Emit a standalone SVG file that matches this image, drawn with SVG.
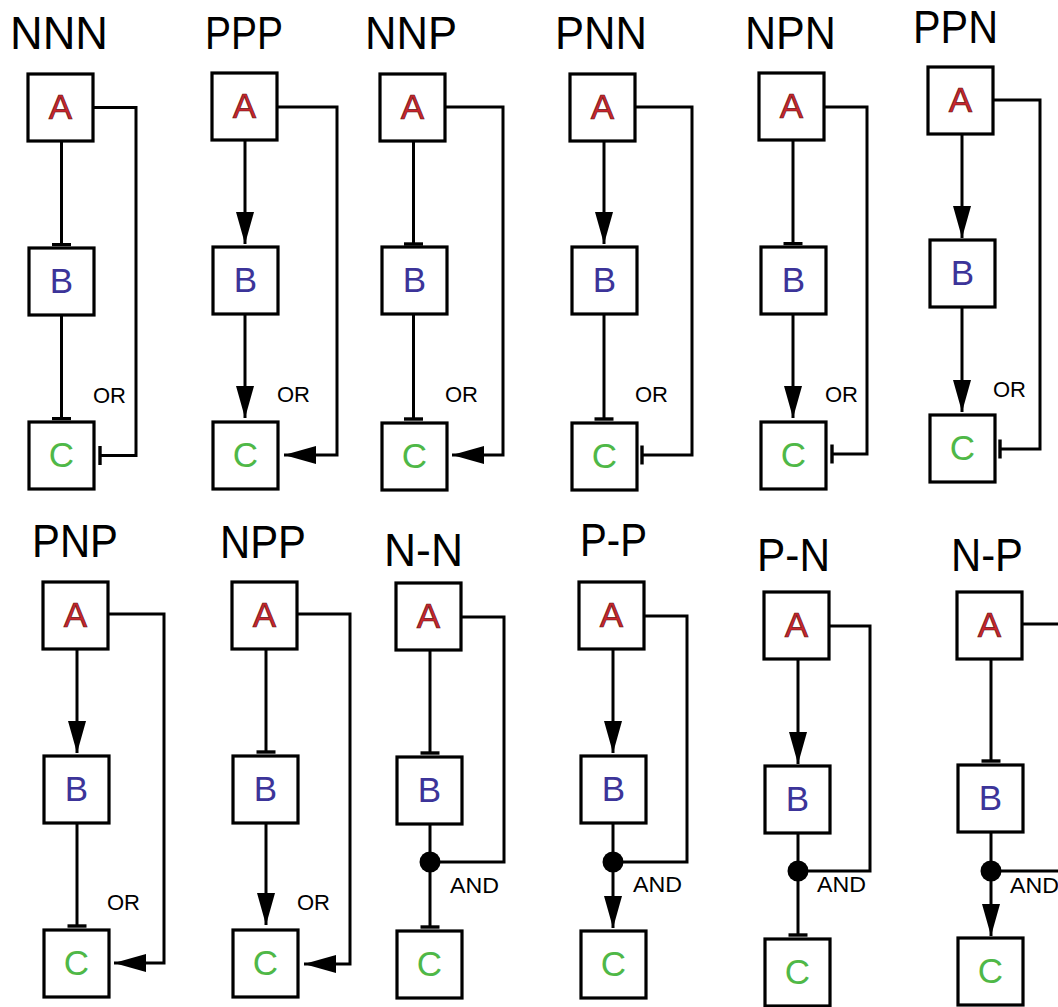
<svg xmlns="http://www.w3.org/2000/svg" width="1058" height="1007" viewBox="0 0 1058 1007">
  <style>
    text { font-family: "Liberation Sans", Arial, sans-serif; }
    .title { font-size: 46px; fill: #000; }
    .box { fill: #fff; stroke: #000; stroke-width: 3.2; }
    .a { font-size: 35px; fill: #c8262d; stroke: #6a1515; stroke-width: 0.7; text-anchor: middle; }
    .b { font-size: 35px; fill: #3c3499; text-anchor: middle; }
    .c { font-size: 35px; fill: #4fb847; text-anchor: middle; }
    .lbl { font-size: 22px; fill: #000; }
    .ln { fill: none; stroke: #000; stroke-width: 3; stroke-linejoin: miter; }
    .act { marker-end: url(#arrow); }
    .inh { marker-end: url(#bar); }
    .dot { fill: #000; }
  </style>
  <defs>
    <marker id="arrow" markerUnits="userSpaceOnUse" markerWidth="32" markerHeight="18" refX="32" refY="9" orient="auto">
      <path d="M0,0 L32,9 L0,18 Z" fill="#000"/>
    </marker>
    <marker id="bar" markerUnits="userSpaceOnUse" markerWidth="4" markerHeight="22" refX="2" refY="11" orient="auto">
      <path d="M2,1.5 V20.5" stroke="#000" stroke-width="3.4"/>
    </marker>
  </defs>

  <rect width="1058" height="1007" fill="#fff"/>

  <!-- panel titles -->
  <g id="titles">
    <text class="title" x="10" y="49" textLength="98" lengthAdjust="spacingAndGlyphs">NNN</text>
    <text class="title" x="205" y="49" textLength="78" lengthAdjust="spacingAndGlyphs">PPP</text>
    <text class="title" x="365" y="49" textLength="92" lengthAdjust="spacingAndGlyphs">NNP</text>
    <text class="title" x="555" y="49" textLength="92" lengthAdjust="spacingAndGlyphs">PNN</text>
    <text class="title" x="745" y="49" textLength="91" lengthAdjust="spacingAndGlyphs">NPN</text>
    <text class="title" x="913" y="43" textLength="85" lengthAdjust="spacingAndGlyphs">PPN</text>
    <text class="title" x="32" y="557" textLength="86" lengthAdjust="spacingAndGlyphs">PNP</text>
    <text class="title" x="220" y="558" textLength="86" lengthAdjust="spacingAndGlyphs">NPP</text>
    <text class="title" x="384" y="566" textLength="79" lengthAdjust="spacingAndGlyphs">N-N</text>
    <text class="title" x="580" y="556" textLength="67" lengthAdjust="spacingAndGlyphs">P-P</text>
    <text class="title" x="757" y="571" textLength="73" lengthAdjust="spacingAndGlyphs">P-N</text>
    <text class="title" x="951" y="571" textLength="72" lengthAdjust="spacingAndGlyphs">N-P</text>
  </g>

  <!-- connectors -->
  <g id="connectors">
    <!-- NNN -->
    <path class="ln inh" d="M61.5,141 V244.5"/>
    <path class="ln inh" d="M61.5,315 V418.5"/>
    <path class="ln inh" d="M93,107.5 H136 V455.5 H100"/>
    <!-- PPP -->
    <path class="ln act" d="M245,140 V244"/>
    <path class="ln act" d="M245,314 V418"/>
    <path class="ln act" d="M277,107 H337 V455 H284"/>
    <!-- NNP -->
    <path class="ln inh" d="M413.5,141 V244"/>
    <path class="ln inh" d="M413.5,314 V419"/>
    <path class="ln act" d="M445,107 H503 V455 H452"/>
    <!-- PNN -->
    <path class="ln act" d="M604,141 V244"/>
    <path class="ln inh" d="M604,314 V419"/>
    <path class="ln inh" d="M635,107 H692 V455 H642"/>
    <!-- NPN -->
    <path class="ln inh" d="M793,140 V243.5"/>
    <path class="ln act" d="M793,314 V418"/>
    <path class="ln inh" d="M824,107 H867 V454 H832"/>
    <!-- PPN -->
    <path class="ln act" d="M962,134 V238"/>
    <path class="ln act" d="M962,307 V412"/>
    <path class="ln inh" d="M993,100 H1040 V449 H1000"/>
    <!-- PNP -->
    <path class="ln act" d="M77,649 V753"/>
    <path class="ln inh" d="M77,823 V926"/>
    <path class="ln act" d="M108,614 H164 V963 H114"/>
    <!-- NPP -->
    <path class="ln inh" d="M266,649 V752"/>
    <path class="ln act" d="M266,823 V925"/>
    <path class="ln act" d="M297,614 H350 V964 H304"/>
    <!-- N-N -->
    <path class="ln inh" d="M430,650 V753"/>
    <path class="ln" d="M430,824 V862"/>
    <path class="ln inh" d="M430,862 V927"/>
    <path class="ln" d="M461,617 H504 V862 H430"/>
    <circle class="dot" cx="430" cy="862" r="10.5"/>
    <!-- P-P -->
    <path class="ln act" d="M613,649 V753"/>
    <path class="ln" d="M613,823 V862"/>
    <path class="ln act" d="M613,862 V928"/>
    <path class="ln" d="M644,616 H687 V862 H613"/>
    <circle class="dot" cx="613" cy="862" r="10.5"/>
    <!-- P-N -->
    <path class="ln act" d="M798,659 V764"/>
    <path class="ln" d="M798,833 V871"/>
    <path class="ln inh" d="M798,871 V935"/>
    <path class="ln" d="M829,626 H870 V871 H798"/>
    <circle class="dot" cx="798" cy="871" r="10.5"/>
    <!-- N-P -->
    <path class="ln inh" d="M991,659 V761"/>
    <path class="ln" d="M991,832 V871"/>
    <path class="ln act" d="M991,871 V936"/>
    <path class="ln" d="M1022,624 H1060"/>
    <path class="ln" d="M991,871 H1060"/>
    <circle class="dot" cx="991" cy="871" r="10.5"/>
  </g>

  <!-- gate labels -->
  <g id="gate-labels">
    <text class="lbl" x="93" y="403">OR</text>
    <text class="lbl" x="277" y="402">OR</text>
    <text class="lbl" x="445" y="402">OR</text>
    <text class="lbl" x="635" y="402">OR</text>
    <text class="lbl" x="825" y="402">OR</text>
    <text class="lbl" x="993" y="397">OR</text>
    <text class="lbl" x="107" y="910">OR</text>
    <text class="lbl" x="297" y="910">OR</text>
    <text class="lbl" x="450" y="893" textLength="49" lengthAdjust="spacingAndGlyphs">AND</text>
    <text class="lbl" x="633" y="892" textLength="49" lengthAdjust="spacingAndGlyphs">AND</text>
    <text class="lbl" x="817" y="892" textLength="49" lengthAdjust="spacingAndGlyphs">AND</text>
    <text class="lbl" x="1010" y="893" textLength="49" lengthAdjust="spacingAndGlyphs">AND</text>
  </g>

  <!-- nodes: NNN -->
  <g id="NNN-A"><rect class="box" x="28" y="74" width="65" height="67"/><text class="a" x="60.5" y="119">A</text></g>
  <g id="NNN-B"><rect class="box" x="29" y="248" width="65" height="67"/><text class="b" x="61.5" y="293">B</text></g>
  <g id="NNN-C"><rect class="box" x="29" y="422" width="65" height="67"/><text class="c" x="61.5" y="467">C</text></g>
  <!-- PPP -->
  <g id="PPP-A"><rect class="box" x="212" y="73" width="65" height="67"/><text class="a" x="244.5" y="118">A</text></g>
  <g id="PPP-B"><rect class="box" x="213" y="247" width="65" height="67"/><text class="b" x="245.5" y="292">B</text></g>
  <g id="PPP-C"><rect class="box" x="213" y="422" width="65" height="67"/><text class="c" x="245.5" y="467">C</text></g>
  <!-- NNP -->
  <g id="NNP-A"><rect class="box" x="380" y="74" width="65" height="67"/><text class="a" x="412.5" y="119">A</text></g>
  <g id="NNP-B"><rect class="box" x="382" y="247" width="65" height="67"/><text class="b" x="414.5" y="292">B</text></g>
  <g id="NNP-C"><rect class="box" x="382" y="423" width="65" height="67"/><text class="c" x="414.5" y="468">C</text></g>
  <!-- PNN -->
  <g id="PNN-A"><rect class="box" x="570" y="74" width="65" height="67"/><text class="a" x="602.5" y="119">A</text></g>
  <g id="PNN-B"><rect class="box" x="572" y="247" width="65" height="67"/><text class="b" x="604.5" y="292">B</text></g>
  <g id="PNN-C"><rect class="box" x="572" y="423" width="65" height="67"/><text class="c" x="604.5" y="468">C</text></g>
  <!-- NPN -->
  <g id="NPN-A"><rect class="box" x="759" y="73" width="65" height="67"/><text class="a" x="791.5" y="118">A</text></g>
  <g id="NPN-B"><rect class="box" x="761" y="247" width="65" height="67"/><text class="b" x="793.5" y="292">B</text></g>
  <g id="NPN-C"><rect class="box" x="761" y="422" width="65" height="67"/><text class="c" x="793.5" y="467">C</text></g>
  <!-- PPN -->
  <g id="PPN-A"><rect class="box" x="928" y="67" width="65" height="67"/><text class="a" x="960.5" y="112">A</text></g>
  <g id="PPN-B"><rect class="box" x="930" y="240" width="65" height="67"/><text class="b" x="962.5" y="285">B</text></g>
  <g id="PPN-C"><rect class="box" x="930" y="415" width="65" height="67"/><text class="c" x="962.5" y="460">C</text></g>
  <!-- PNP -->
  <g id="PNP-A"><rect class="box" x="43" y="582" width="65" height="67"/><text class="a" x="75.5" y="627">A</text></g>
  <g id="PNP-B"><rect class="box" x="44" y="756" width="65" height="67"/><text class="b" x="76.5" y="801">B</text></g>
  <g id="PNP-C"><rect class="box" x="44" y="930" width="65" height="67"/><text class="c" x="76.5" y="975">C</text></g>
  <!-- NPP -->
  <g id="NPP-A"><rect class="box" x="232" y="582" width="65" height="67"/><text class="a" x="264.5" y="627">A</text></g>
  <g id="NPP-B"><rect class="box" x="233" y="756" width="65" height="67"/><text class="b" x="265.5" y="801">B</text></g>
  <g id="NPP-C"><rect class="box" x="233" y="930" width="65" height="67"/><text class="c" x="265.5" y="975">C</text></g>
  <!-- N-N -->
  <g id="N-N-A"><rect class="box" x="396" y="583" width="65" height="67"/><text class="a" x="428.5" y="628">A</text></g>
  <g id="N-N-B"><rect class="box" x="397" y="757" width="65" height="67"/><text class="b" x="429.5" y="802">B</text></g>
  <g id="N-N-C"><rect class="box" x="397" y="931" width="65" height="67"/><text class="c" x="429.5" y="976">C</text></g>
  <!-- P-P -->
  <g id="P-P-A"><rect class="box" x="579" y="582" width="65" height="67"/><text class="a" x="611.5" y="627">A</text></g>
  <g id="P-P-B"><rect class="box" x="581" y="756" width="65" height="67"/><text class="b" x="613.5" y="801">B</text></g>
  <g id="P-P-C"><rect class="box" x="581" y="931" width="65" height="67"/><text class="c" x="613.5" y="976">C</text></g>
  <!-- P-N -->
  <g id="P-N-A"><rect class="box" x="764" y="592" width="65" height="67"/><text class="a" x="796.5" y="637">A</text></g>
  <g id="P-N-B"><rect class="box" x="765" y="766" width="65" height="67"/><text class="b" x="797.5" y="811">B</text></g>
  <g id="P-N-C"><rect class="box" x="765" y="939" width="65" height="67"/><text class="c" x="797.5" y="984">C</text></g>
  <!-- N-P -->
  <g id="N-P-A"><rect class="box" x="957" y="592" width="65" height="67"/><text class="a" x="989.5" y="637">A</text></g>
  <g id="N-P-B"><rect class="box" x="958" y="765" width="65" height="67"/><text class="b" x="990.5" y="810">B</text></g>
  <g id="N-P-C"><rect class="box" x="958" y="938" width="65" height="67"/><text class="c" x="990.5" y="983">C</text></g>
</svg>
